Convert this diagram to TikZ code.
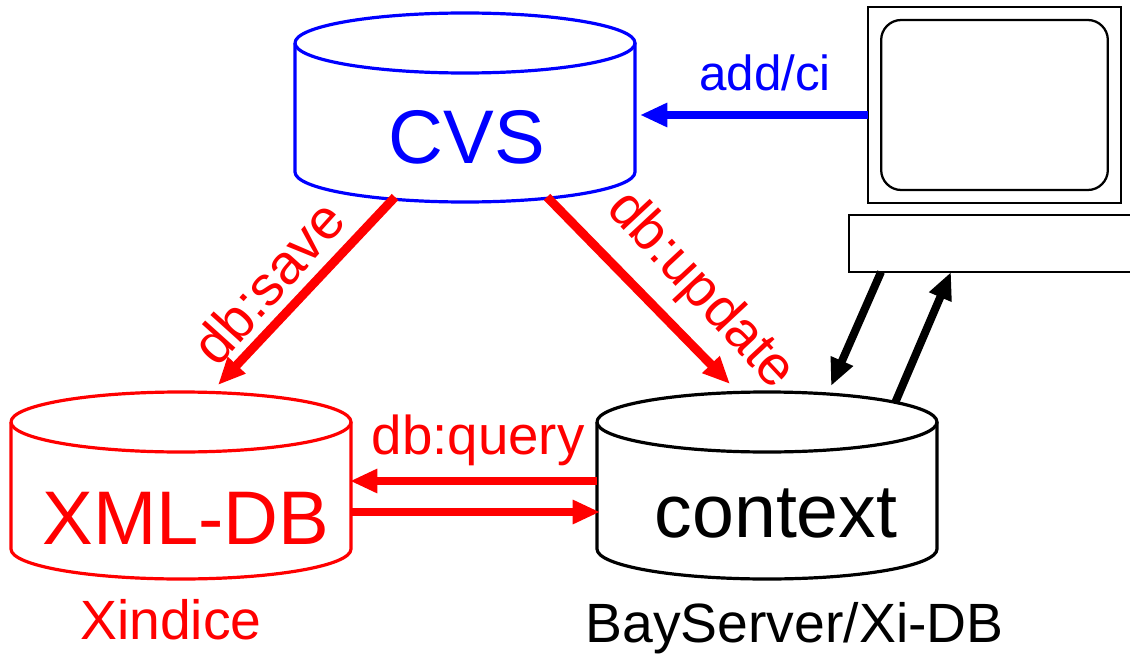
\documentclass[tikz,border=0pt]{standalone}
\usepackage{fontspec}
\setmainfont{Liberation Sans}
\usetikzlibrary{arrows.meta}
\definecolor{pblue}{RGB}{0,0,255}
\definecolor{pred}{RGB}{255,0,0}
\newcommand{\fsz}[1]{\fontsize{#1}{#1}\selectfont}
\tikzset{
  x=0.75pt,y=-0.75pt,
  cyl/.style={line width=2.4pt,fill=none},
  flow/.style={line width=6.7pt,-{Triangle[length=20.5pt,width=17pt]}},
  thinflow/.style={line width=6pt,-{Triangle[length=20.5pt,width=17pt]}},
  frame/.style={draw=black,line width=2pt,fill=white},
  label/.style={inner sep=0pt,anchor=center},
}
\newcommand{\cylinder}[4]{% x left, y top-centre, colour, y body bottom
  \draw[cyl,#3] (#1,#2) arc[x radius=127.5pt,y radius=22.5pt,start angle=180,end angle=-180];
  \draw[cyl,#3] (#1,#2) -- (#1,#4) arc[x radius=127.5pt,y radius=22.5pt,start angle=180,end angle=360] -- ++(0,#2-#4);
}
\begin{document}
\begin{tikzpicture}
\useasboundingbox (0,0) rectangle (1130,656);
% cylinders
\cylinder{295}{43}{pblue}{172}
\cylinder{11}{422}{pred}{549}
\cylinder{597}{422}{black}{549}
% computer
\node[frame,minimum width=189.75pt,minimum height=147pt,inner sep=0pt] (monitor) at (994.5,105) {};
\node[draw=black,line width=1.7pt,rounded corners=15pt,minimum width=170pt,minimum height=127.5pt,inner sep=0pt] (screen) at (994.5,105) {};
\node[frame,minimum width=213pt,minimum height=42.75pt,inner sep=0pt] (keyboard) at (991,243.5) {};
% anchors
\coordinate (cvsL) at (395,197);
\coordinate (cvsR) at (547,197);
\coordinate (cvsIn) at (640,115);
\coordinate (monOut) at (868,115);
\coordinate (xmlIn) at (218,385);
\coordinate (ctxIn) at (730,384);
\coordinate (xmlA) at (350,481);
\coordinate (ctxA) at (597,481);
\coordinate (xmlB) at (352,512);
\coordinate (ctxB) at (600,512);
\coordinate (kbA) at (881,272);
\coordinate (ctxUp) at (831,386);
\coordinate (ctxOut) at (895,403);
\coordinate (kbB) at (951,272);
% connectors
\draw[flow,pblue] (monOut) -- (cvsIn);
\draw[flow,pred] (cvsL) -- (xmlIn);
\draw[flow,pred] (cvsR) -- (ctxIn);
\draw[flow,pred] (ctxA) -- (xmlA);
\draw[flow,pred] (xmlB) -- (ctxB);
\draw[thinflow,black] (kbA) -- (ctxUp);
\draw[thinflow,black] (ctxOut) -- (kbB);
% labels
\node[label,pblue] (cvs) at (467,137) {\fsz{57}CVS};
\node[label,pred] (xml) at (186,518) {\fsz{57}XML-DB};
\node[label,black] (ctx) at (776,514) {\fsz{56.5}context};
\node[label,pblue] (add) at (765,73) {\fsz{37}add/ci};
\node[label,pred] (query) at (478,440) {\fsz{41}db:query};
\node[label,pred] (xindice) at (171,620) {\fsz{41.5}Xindice};
\node[label,black] (bay) at (794.5,628) {\fsz{41.5}BayServer/Xi-DB};
\node[label,pred,rotate=-47] (update) at (700,291) {\fsz{41.7}db:update};
\node[label,pred,rotate=48] (save) at (268,282) {\fsz{42}db:save};
\end{tikzpicture}
\end{document}
